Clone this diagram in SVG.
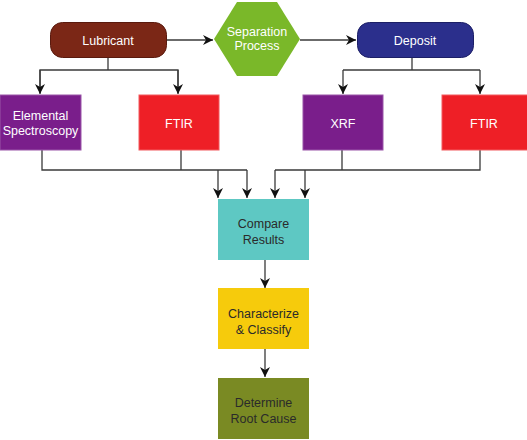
<svg xmlns="http://www.w3.org/2000/svg" width="527" height="440" viewBox="0 0 527 440">
<style>
.t{font-family:"Liberation Sans",Arial,sans-serif;font-size:12.5px;text-anchor:middle}
.w{fill:#ffffff}
.d{fill:#2a2a2a}
.c{fill:none;stroke:#3a3a3a;stroke-width:1.3}
</style>
<defs>
<marker id="ah" viewBox="0 0 10 10" refX="10" refY="5" markerWidth="8" markerHeight="8" markerUnits="userSpaceOnUse" orient="auto">
<path d="M0,0 L10,5 L0,10 Z" fill="#111"/>
</marker>
<marker id="ahd" viewBox="0 0 10 10" refX="10" refY="5" markerWidth="10" markerHeight="10" markerUnits="userSpaceOnUse" orient="auto">
<path d="M0,0 L10,5 L0,10 L3,5 Z" fill="#111"/>
</marker>
</defs>
<rect width="527" height="440" fill="#ffffff"/>
<g id="connectors">
<line class="c" x1="166" y1="40" x2="213" y2="40" marker-end="url(#ahd)"/>
<line class="c" x1="300" y1="40" x2="356" y2="40" marker-end="url(#ahd)"/>
<polyline class="c" points="108,57 108,70"/>
<polyline class="c" points="40,93 40,70 178,70 178,93" marker-start="none"/>
<line class="c" x1="40" y1="70" x2="40" y2="94" marker-end="url(#ahd)"/>
<line class="c" x1="178" y1="70" x2="178" y2="94" marker-end="url(#ahd)"/>
<polyline class="c" points="412,57 412,70"/>
<polyline class="c" points="343,70 480,70"/>
<line class="c" x1="343" y1="70" x2="343" y2="94" marker-end="url(#ahd)"/>
<line class="c" x1="480" y1="70" x2="480" y2="94" marker-end="url(#ahd)"/>
<polyline class="c" points="42,150 42,170 247,170"/>
<line class="c" x1="181" y1="150" x2="181" y2="170"/>
<line class="c" x1="218" y1="170" x2="218" y2="198" marker-end="url(#ahd)"/>
<line class="c" x1="247" y1="170" x2="247" y2="198" marker-end="url(#ahd)"/>
<polyline class="c" points="480,150 480,170 275,170"/>
<line class="c" x1="342" y1="150" x2="342" y2="170"/>
<line class="c" x1="275" y1="170" x2="275" y2="198" marker-end="url(#ahd)"/>
<line class="c" x1="305" y1="170" x2="305" y2="198" marker-end="url(#ahd)"/>
<line class="c" x1="265" y1="260" x2="265" y2="288" marker-end="url(#ahd)"/>
<line class="c" x1="265" y1="349" x2="265" y2="377" marker-end="url(#ahd)"/>
</g>
<g id="lubricant">
<rect x="50.5" y="22.5" width="116" height="35" rx="12" fill="#7b2716" stroke="#5a1a0e"/>
<text class="t w" x="108" y="44.5">Lubricant</text>
</g>
<g id="separation">
<polygon points="214,39 237,2 277,2 300,39 277,76 237,76" fill="#7ab829"/>
<text class="t w" x="257" y="36">Separation</text>
<text class="t w" x="257" y="50">Process</text>
</g>
<g id="deposit">
<rect x="357.5" y="22.5" width="116" height="35" rx="12" fill="#2b2f8c" stroke="#1c1f66"/>
<text class="t w" x="415" y="44.5">Deposit</text>
</g>
<g id="elemental">
<rect x="0" y="95" width="81" height="55" fill="#7a1e8b" stroke="#9a55a8"/>
<text class="t w" x="40.5" y="120">Elemental</text>
<text class="t w" x="40.5" y="135">Spectroscopy</text>
</g>
<g id="ftir1">
<rect x="139" y="95" width="80" height="55" fill="#ee1f26" stroke="#f25a5e"/>
<text class="t w" x="179" y="128">FTIR</text>
</g>
<g id="xrf">
<rect x="303" y="95" width="80" height="55" fill="#7a1e8b" stroke="#9a55a8"/>
<text class="t w" x="343" y="128">XRF</text>
</g>
<g id="ftir2">
<rect x="442" y="95" width="86" height="55" fill="#ee1f26" stroke="#f25a5e"/>
<text class="t w" x="484" y="128">FTIR</text>
</g>
<g id="compare">
<rect x="218" y="199" width="91" height="61" fill="#5ec8c3"/>
<text class="t d" x="263.5" y="228">Compare</text>
<text class="t d" x="263.5" y="244">Results</text>
</g>
<g id="characterize">
<rect x="218" y="288" width="91" height="61" fill="#f6cb0c"/>
<text class="t d" x="263.5" y="318">Characterize</text>
<text class="t d" x="263.5" y="334">&amp; Classify</text>
</g>
<g id="determine">
<rect x="218" y="378" width="91" height="61" fill="#7a8a23"/>
<text class="t d" x="263.5" y="407">Determine</text>
<text class="t d" x="263.5" y="423">Root Cause</text>
</g>
</svg>
